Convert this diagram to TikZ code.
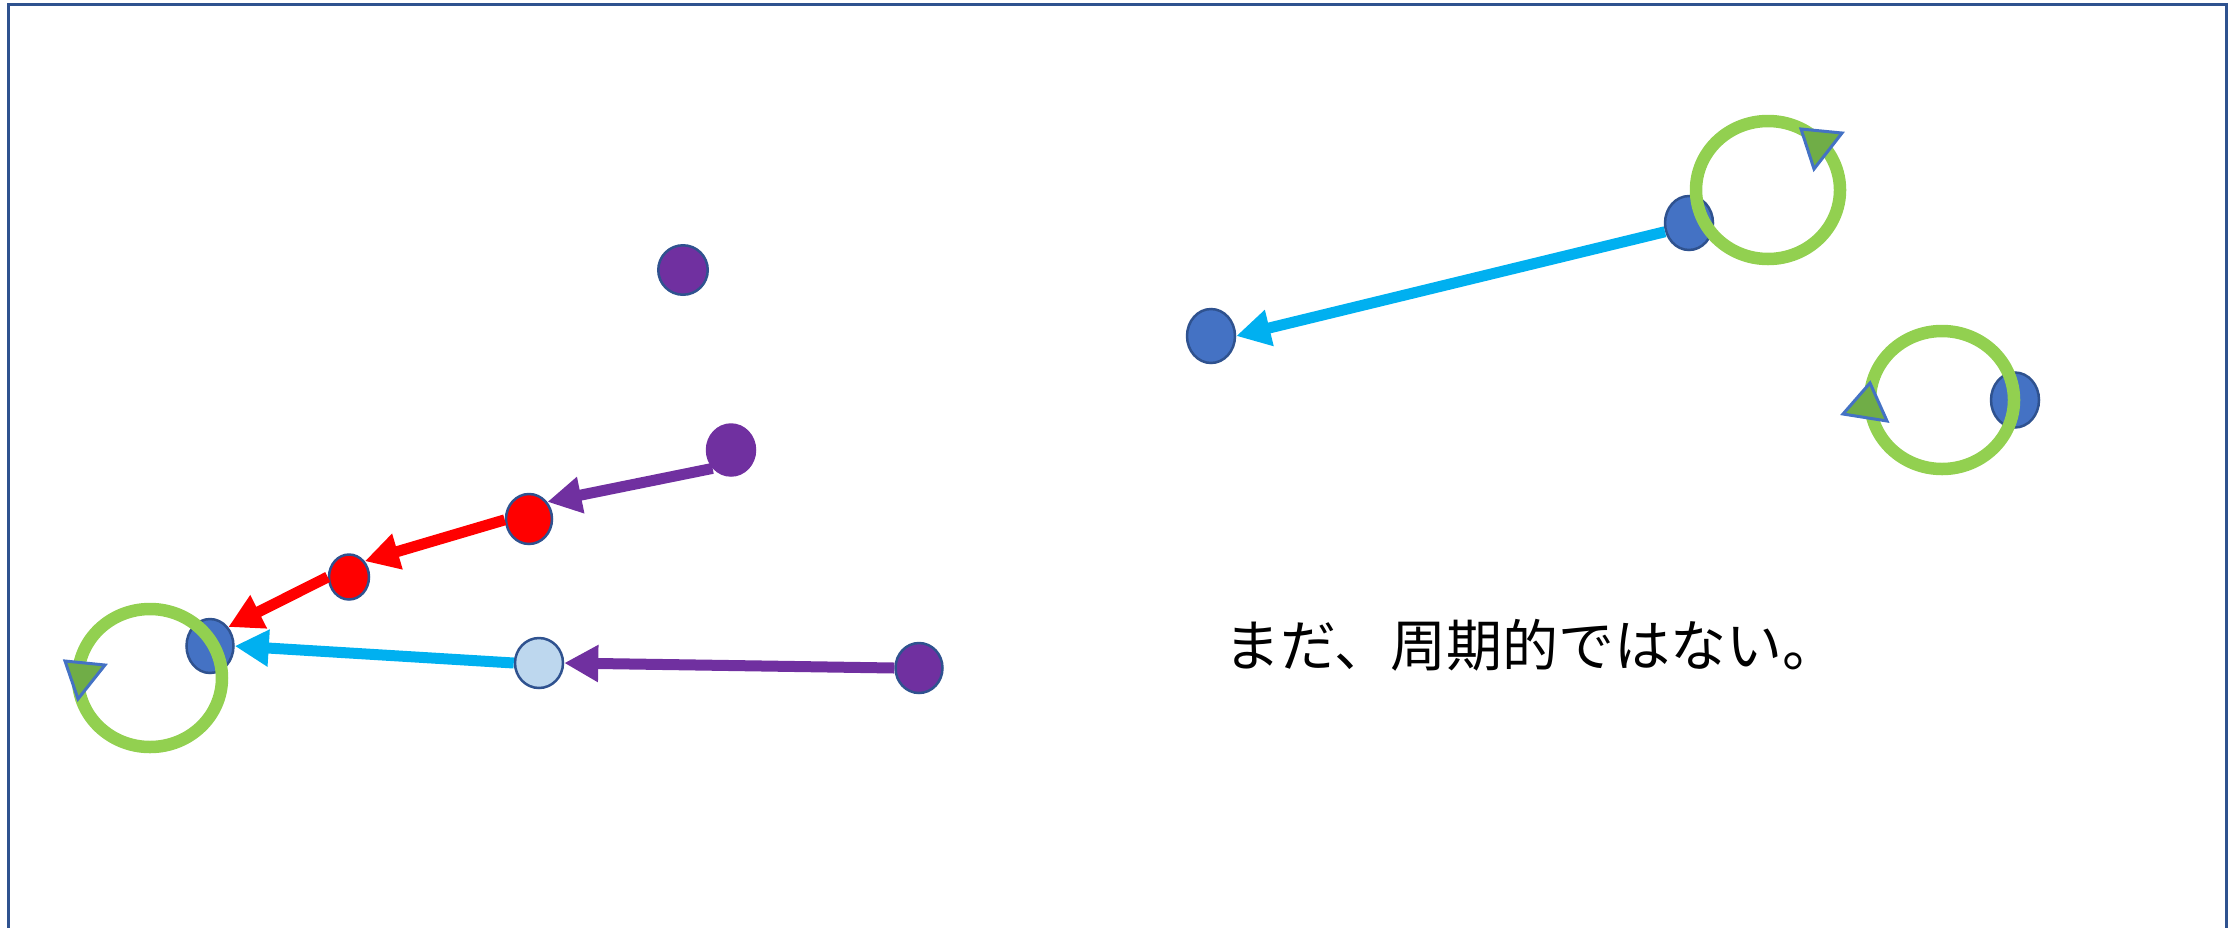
\documentclass[tikz,border=0pt]{standalone}
\usepackage{fontspec}
\newfontfamily\jpfont{Noto Sans CJK JP}
\usetikzlibrary{arrows.meta,shapes.geometric}
\definecolor{pur}{HTML}{7030A0}
\definecolor{nodeline}{HTML}{2F528F}
\definecolor{bluefill}{HTML}{4472C4}
\definecolor{lightblue}{HTML}{BDD7EE}
\definecolor{cyanline}{HTML}{00B0F0}
\definecolor{ringgreen}{HTML}{92D050}
\definecolor{trigreen}{HTML}{70AD47}
\definecolor{frameblue}{HTML}{2F528F}
\begin{document}
\begin{tikzpicture}[x=1pt,y=-1pt,
  dot/.style={ellipse, draw=nodeline, line width=2.5pt, inner sep=0pt},
  arr/.style={line width=11pt, -{Triangle[length=34pt,width=35pt]}},
  ring/.style={draw=ringgreen, line width=12.5pt},
  tri/.style={fill=trigreen, draw=bluefill, line width=3pt, line join=miter}]
\useasboundingbox (0,0) rectangle (2237,927);
\clip (0,0) rectangle (2237,927);
\draw[frameblue, line width=3pt] (8,4.5) rectangle (2226,960);
% nodes
\node[dot, fill=pur, minimum width=49.5pt, minimum height=49.5pt] (p1) at (683,270) {};
\node[dot, fill=pur, draw=pur, minimum width=48pt, minimum height=51pt] (p2) at (731,450) {};
\node[dot, fill=pur, minimum width=47pt, minimum height=50pt] (p3) at (919,668) {};
\node[dot, fill=red, minimum width=46pt, minimum height=50pt] (r1) at (529,519) {};
\node[dot, fill=red, minimum width=40pt, minimum height=45pt] (r2) at (349,577) {};
\node[dot, fill=lightblue, minimum width=48pt, minimum height=50pt] (lb) at (539,663) {};
\node[dot, fill=bluefill, minimum width=47pt, minimum height=54pt] (bl) at (210,646) {};
\node[dot, fill=bluefill, minimum width=48pt, minimum height=54pt] (bt) at (1689,223) {};
\node[dot, fill=bluefill, minimum width=48pt, minimum height=54pt] (bm) at (1211,336) {};
\node[dot, fill=bluefill, minimum width=48pt, minimum height=55pt] (br) at (2015,400) {};
% arrows
\draw[arr, pur] (p2.225) -- (r1.43);
\draw[arr, red] (r1.182) -- (r2.45);
\draw[arr, red] (r2.west) -- (bl.46);
\draw[arr, cyanline] (lb.west) -- (bl.east);
\draw[arr, pur] (p3.west) -- (lb.east);
\draw[arr, cyanline] (bt.200) -- (bm.east);
% rings
\draw[ring] (150,678) ellipse [x radius=72pt, y radius=69pt];
\draw[ring] (1768,190) ellipse [x radius=72pt, y radius=69pt];
\draw[ring] (1942,400) ellipse [x radius=72pt, y radius=69pt];
% triangles
\draw[tri] (65,661) -- (105,665) -- (78,699) -- cycle;
\draw[tri] (1801,129) -- (1842,133) -- (1814,169) -- cycle;
\draw[tri] (1870,383) -- (1887,421) -- (1843,414) -- cycle;
% text
\node[anchor=west, inner sep=0pt, font=\jpfont\fontsize{56pt}{67pt}\selectfont] (txt) at (1224,645) {まだ、周期的ではない。};
\end{tikzpicture}
\end{document}
